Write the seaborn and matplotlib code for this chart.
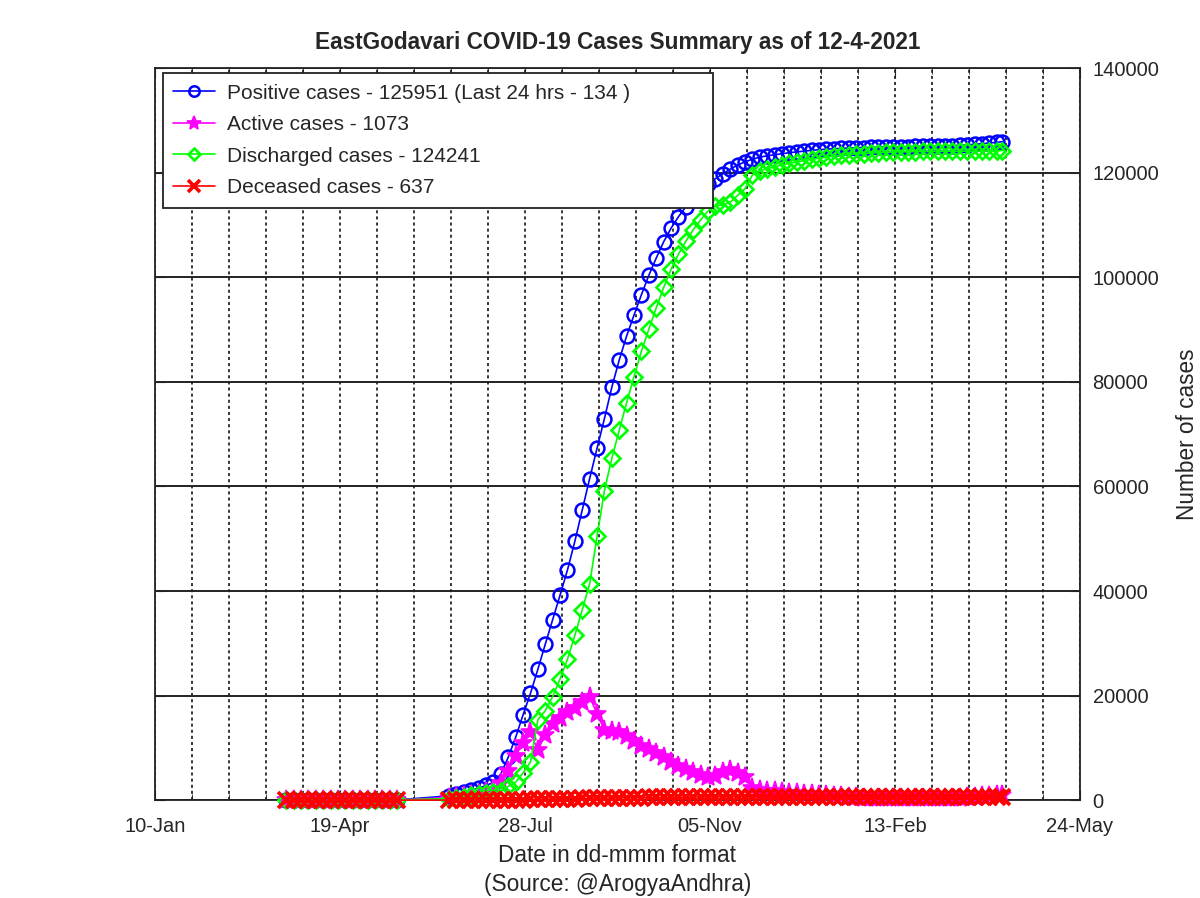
import seaborn as sns
import pandas as pd
import matplotlib.pyplot as plt
import matplotlib.dates as mdates

# report dates (roughly every 4 days, with a reporting gap late May - mid June 2020)
dates = [
    "2020-03-21", "2020-03-25", "2020-03-29", "2020-04-02", "2020-04-06", "2020-04-10",
    "2020-04-14", "2020-04-18", "2020-04-22", "2020-04-26", "2020-04-30", "2020-05-04",
    "2020-05-08", "2020-05-12", "2020-05-16", "2020-05-20",
    "2020-06-17", "2020-06-21", "2020-06-25", "2020-06-29", "2020-07-03", "2020-07-07",
    "2020-07-11", "2020-07-15", "2020-07-19", "2020-07-23", "2020-07-27", "2020-07-31",
    "2020-08-04", "2020-08-08", "2020-08-12", "2020-08-16", "2020-08-20", "2020-08-24",
    "2020-08-28", "2020-09-01", "2020-09-05", "2020-09-09", "2020-09-13", "2020-09-17",
    "2020-09-21", "2020-09-25", "2020-09-29", "2020-10-03", "2020-10-07", "2020-10-11",
    "2020-10-15", "2020-10-19", "2020-10-23", "2020-10-27", "2020-10-31", "2020-11-04",
    "2020-11-08", "2020-11-12", "2020-11-16", "2020-11-20", "2020-11-24", "2020-11-28",
    "2020-12-02", "2020-12-06", "2020-12-10", "2020-12-14", "2020-12-18", "2020-12-22",
    "2020-12-26", "2020-12-30", "2021-01-03", "2021-01-07", "2021-01-11", "2021-01-15",
    "2021-01-19", "2021-01-23", "2021-01-27", "2021-01-31", "2021-02-04", "2021-02-08",
    "2021-02-12", "2021-02-16", "2021-02-20", "2021-02-24", "2021-02-28", "2021-03-04",
    "2021-03-08", "2021-03-12", "2021-03-16", "2021-03-20", "2021-03-24", "2021-03-28",
    "2021-04-01", "2021-04-05", "2021-04-09", "2021-04-12",
]

positive = [
    1, 3, 6, 9, 11, 17, 24, 26, 32, 34, 39, 42, 45, 47, 50, 52,
    800, 1100, 1500, 1900, 2300, 2800, 3400, 5000, 8200, 12000, 16300, 20400,
    25000, 29800, 34500, 39200, 44000, 49500, 55500, 61500, 67300, 73000, 79000, 84200,
    88800, 92800, 96700, 100400, 103700, 106800, 109400, 111600, 113500, 115100, 116500, 117800,
    118900, 119800, 120700, 121500, 122100, 122600, 123000, 123250, 123450, 123650, 123850, 124000,
    124150, 124300, 124420, 124520, 124600, 124670, 124730, 124780, 124830, 124870, 124905, 124935,
    124965, 124995, 125020, 125045, 125070, 125095, 125125, 125160, 125205, 125265, 125345, 125450,
    125570, 125700, 125830, 125951,
]

active = [
    1, 3, 6, 9, 11, 17, 23, 22, 20, 14, 12, 10, 8, 10, 12, 10,
    500, 650, 850, 1000, 1200, 1500, 1900, 3200, 5500, 8500, 11000, 13000,
    9500, 12500, 14500, 15800, 16800, 17700, 18800, 19800, 16500, 13400, 13200, 13000,
    12300, 11300, 10300, 9800, 9000, 8200, 7300, 6600, 6000, 5400, 4900, 4500,
    4600, 5300, 5700, 5200, 4500, 2400, 2000, 1800, 1700, 1500, 1400, 1300,
    1200, 1100, 1000, 900, 800, 700, 600, 550, 500, 450, 400, 380,
    360, 350, 340, 340, 350, 360, 380, 410, 450, 500, 570, 660,
    760, 860, 960, 1073,
]

discharged = [
    0, 0, 0, 0, 0, 0, 1, 4, 12, 20, 27, 32, 37, 37, 38, 42,
    290, 440, 640, 890, 1080, 1280, 1470, 1760, 2640, 3420, 5190, 7260,
    15340, 17110, 19790, 23160, 26940, 31510, 36390, 41360, 50440, 59210, 65390, 70760,
    76040, 81020, 85900, 90090, 94170, 98060, 101540, 104430, 106920, 109110, 111000, 112700,
    113690, 113890, 114380, 115680, 116980, 119580, 120370, 120820, 121120, 121520, 121820, 122070,
    122320, 122570, 122790, 122990, 123170, 123340, 123500, 123600, 123690, 123780, 123870, 123920,
    123970, 124010, 124040, 124070, 124080, 124100, 124110, 124120, 124125, 124130, 124140, 124150,
    124170, 124200, 124230, 124241,
]

deceased = [
    0, 0, 0, 0, 0, 0, 0, 0, 0, 0, 0, 0, 0, 0, 0, 0,
    8, 10, 12, 15, 18, 22, 28, 40, 60, 85, 110, 140,
    165, 190, 215, 240, 265, 290, 315, 340, 365, 390, 415, 440,
    460, 480, 500, 515, 530, 545, 560, 570, 580, 590, 598, 604,
    609, 613, 617, 620, 622, 624, 626, 627, 628, 629, 630, 631,
    632, 633, 633, 634, 634, 635, 635, 635, 636, 636, 636, 636,
    636, 636, 636, 636, 636, 636, 636, 636, 636, 636, 636, 636,
    636, 636, 636, 637,
]

labels = [
    "Positive cases - 125951 (Last 24 hrs - 134 )",
    "Active cases - 1073",
    "Discharged cases - 124241",
    "Deceased cases - 637",
]
xtick_dates = ["2020-01-10", "2020-04-19", "2020-07-28", "2020-11-05", "2021-02-13", "2021-05-24"]
xtick_labels = ["10-Jan", "19-Apr", "28-Jul", "05-Nov", "13-Feb", "24-May"]
yticks = [0, 20000, 40000, 60000, 80000, 100000, 120000, 140000]

df = pd.DataFrame({
    "date": pd.to_datetime(dates),
    "positive": positive,
    "active": active,
    "discharged": discharged,
    "deceased": deceased,
})

sns.set_style("ticks")
plt.rcParams["font.family"] = ["Liberation Sans", "DejaVu Sans"]

fig = plt.figure(figsize=(12, 8.98), dpi=100)
ax = fig.add_axes([0.129, 0.109, 0.771, 0.815])

# column, colour, marker, size, face, edge width
styles = [
    ("positive", "#0000ff", "o", 10, "none", 1.8),
    ("active", "#ff00ff", "*", 14, "#ff00ff", 1.2),
    ("discharged", "#00ff00", "D", 8, "none", 1.9),
    ("deceased", "#ff0000", "x", 11, "#ff0000", 2.6),
]
for (col, color, mk, ms, fc, mew), lab in zip(styles, labels):
    sns.lineplot(x="date", y=col, data=df, ax=ax, color=color, marker=mk,
                 markersize=ms, markerfacecolor=fc, markeredgecolor=color,
                 markeredgewidth=mew, linewidth=1.2, label=lab, clip_on=False)

start = pd.Timestamp(xtick_dates[0])
end = pd.Timestamp(xtick_dates[-1])
ax.set_xlim(start, end)
ax.set_ylim(0, 140000)

ax.set_xticks(mdates.date2num(pd.to_datetime(xtick_dates)))
ax.set_xticklabels(xtick_labels)
ax.set_xticks(mdates.date2num(pd.date_range(start, end, freq="20D")), minor=True)
ax.set_yticks(yticks)
ax.set_yticklabels([str(v) for v in yticks])

ax.set_axisbelow(True)
ax.grid(which="both", axis="x", color="black", linestyle=(0, (2, 2)), linewidth=1.1)
ax.grid(which="major", axis="y", color="#222222", linestyle="-", linewidth=1.4)

for sp in ax.spines.values():
    sp.set_color("#222222")
    sp.set_linewidth(1.3)
    sp.set_zorder(1)

ax.tick_params(which="both", direction="in", top=True, bottom=True, left=True, right=True,
               labelleft=False, labelright=True, colors="#222222", labelcolor="#262626",
               labelsize=14.5)
ax.tick_params(axis="x", pad=12)
ax.tick_params(axis="y", pad=9)
ax.tick_params(which="major", length=7)
ax.tick_params(which="minor", length=4)

ax.yaxis.set_label_position("right")
ax.set_ylabel("Number of cases", fontsize=16.3, color="#262626", labelpad=12)
ax.set_xlabel("Date in dd-mmm format\n(Source: @ArogyaAndhra)", fontsize=16.3,
              color="#262626", labelpad=6, linespacing=1.3)
ax.set_title("EastGodavari COVID-19 Cases Summary as of 12-4-2021",
             fontsize=16.3, fontweight="bold", pad=14)

leg = ax.legend(loc="upper left", bbox_to_anchor=(0.0086, 0.993, 0.595, 0), mode="expand",
                borderaxespad=0, fontsize=15, frameon=True, fancybox=False, framealpha=1,
                edgecolor="#222222", handlelength=2.0, handletextpad=0.6,
                labelspacing=0.6, borderpad=0.5, markerscale=0.75)
leg.get_frame().set_linewidth(1.3)
leg.set_zorder(5)

plt.savefig("out.png", dpi=100)
